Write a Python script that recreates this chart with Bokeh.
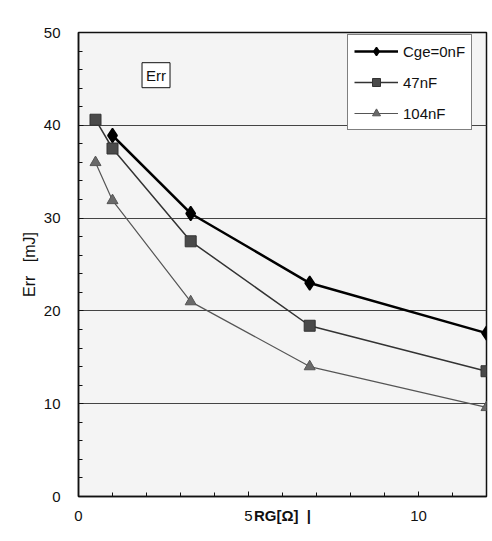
from math import pi
from bokeh.plotting import figure
from bokeh.models import Range1d, Legend, LegendItem, Label, FixedTicker
from bokeh.embed import file_html
from bokeh.resources import INLINE

# Data (gate resistance R_G [Ohm] vs Err [mJ])
rg_0nf = [1.0, 3.3, 6.8, 12.0]
err_0nf = [38.9, 30.5, 23.0, 17.6]

rg_47nf = [0.5, 1.0, 3.3, 6.8, 12.0]
err_47nf = [40.6, 37.5, 27.5, 18.4, 13.5]

rg_104nf = [0.5, 1.0, 3.3, 6.8, 12.0]
err_104nf = [36.0, 31.9, 21.0, 14.0, 9.6]

series_labels = ["Cge=0nF", "47nF", "104nF"]
x_ticks = [0, 5, 10]
y_ticks = [0, 10, 20, 30, 40, 50]
x_title = "RG[Ω]\u00a0\u00a0|"
y_title = "Err\u00a0\u00a0\u00a0[mJ]"

FONT = "Liberation Sans"

p = figure(width=492, height=541, output_backend="svg", toolbar_location=None,
           x_range=Range1d(0, 12), y_range=Range1d(0, 50),
           min_border_left=78, min_border_right=6, min_border_top=32,
           min_border_bottom=45)
p.background_fill_color = "#f4f4f4"
p.border_fill_color = "white"
p.outline_line_color = "#111111"
p.outline_line_width = 1.5

for ax in (p.xaxis[0], p.yaxis[0]):
    ax.axis_line_color = "#111111"
    ax.axis_line_width = 1.5
    ax.major_tick_in = 5
    ax.major_tick_out = 0
    ax.minor_tick_in = 4
    ax.minor_tick_out = 0
    ax.major_tick_line_color = "#111111"
    ax.minor_tick_line_color = "#111111"
    ax.major_label_text_font = FONT
    ax.major_label_text_font_size = "15px"
    ax.major_label_text_color = "#111111"
    ax.axis_label_text_font = FONT
    ax.axis_label_text_font_size = "16px"
    ax.axis_label_text_font_style = "normal"
    ax.axis_label_text_color = "#111111"

p.xaxis[0].ticker = FixedTicker(ticks=x_ticks, minor_ticks=list(range(0, 13)))
p.yaxis[0].ticker = FixedTicker(ticks=y_ticks, minor_ticks=list(range(0, 51, 2)))
p.xaxis[0].major_label_standoff = 14
p.yaxis[0].major_label_standoff = 18

p.yaxis[0].axis_label = y_title
p.yaxis[0].axis_label_standoff = 3
p.xaxis[0].axis_label = x_title
p.xaxis[0].axis_label_text_font_size = "15px"
p.xaxis[0].axis_label_text_font_style = "bold"
p.xaxis[0].axis_label_standoff = -17

p.xgrid.visible = False
p.ygrid.ticker = FixedTicker(ticks=[10, 20, 30, 40])
p.ygrid.grid_line_color = "#444444"
p.ygrid.grid_line_width = 1

l0 = p.line(rg_0nf, err_0nf, line_color="black", line_width=2.5)
m0 = p.scatter(rg_0nf, err_0nf, marker="diamond", size=14,
               fill_color="black", line_color="black", line_width=1.5)
l1 = p.line(rg_47nf, err_47nf, line_color="#333333", line_width=1.5)
m1 = p.scatter(rg_47nf, err_47nf, marker="square", size=11, fill_color="#4a4a4a",
               line_color="#333333")
l2 = p.line(rg_104nf, err_104nf, line_color="#555555", line_width=1.2)
m2 = p.scatter(rg_104nf, err_104nf, marker="triangle", size=11, fill_color="#6a6a6a",
               line_color="#555555")

legend = Legend(items=[
    LegendItem(label=series_labels[0], renderers=[l0, m0]),
    LegendItem(label=series_labels[1], renderers=[l1, m1]),
    LegendItem(label=series_labels[2], renderers=[l2, m2]),
], location=(269, 366))
legend.border_line_color = "black"
legend.border_line_width = 1
legend.background_fill_color = "white"
legend.background_fill_alpha = 1.0
legend.padding = 6
legend.margin = 0
legend.spacing = 11
legend.glyph_width = 44
legend.glyph_height = 20
legend.label_height = 20
legend.label_standoff = 5
legend.label_text_font = FONT
legend.label_text_font_size = "15px"
legend.label_text_color = "#111111"
p.add_layout(legend)

p.add_layout(Label(x=2.28, y=45.4, text="Err", text_align="center",
                   text_baseline="middle", text_font=FONT, text_font_size="15px",
                   text_color="#111111", background_fill_color="white",
                   border_line_color="#111111", border_line_width=1, padding=4))

open("out.html", "w").write(file_html(p, INLINE))
